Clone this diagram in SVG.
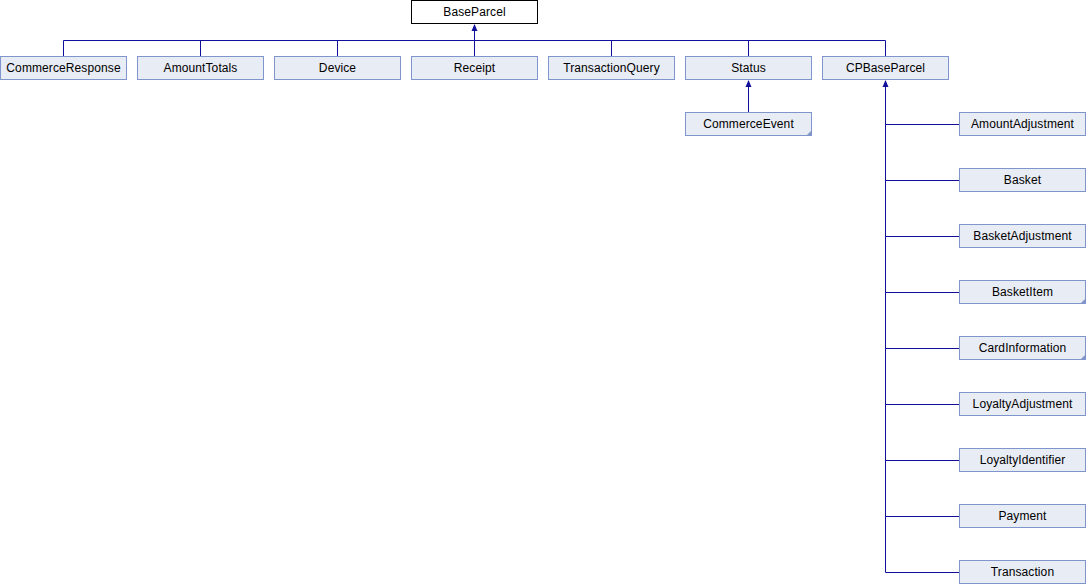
<svg xmlns="http://www.w3.org/2000/svg" width="1086" height="584" viewBox="0 0 1086 584">
<defs>
<style>
.n rect{fill:#e8ecf5;stroke:#7f95cc;stroke-width:1}
.r rect{fill:#ffffff;stroke:#000000;stroke-width:1}
text{font-family:"Liberation Sans",Arial,sans-serif;font-size:12px;fill:#000000;text-anchor:middle;letter-spacing:0.1px}
.fold{fill:#7f95cc}
.e path,.e line{stroke:#10109a;stroke-width:1;fill:none}
.a{fill:#10109a;stroke:none}
</style>
</defs>
<rect width="1086" height="584" fill="#ffffff"/>
<g class="e" id="connectors">
<path d="M63.5 56.5V40.5H885.5V56.5"/>
<line x1="200.5" y1="40.5" x2="200.5" y2="56.5"/>
<line x1="337.5" y1="40.5" x2="337.5" y2="56.5"/>
<line x1="474.5" y1="26" x2="474.5" y2="56.5"/>
<line x1="611.5" y1="40.5" x2="611.5" y2="56.5"/>
<line x1="748.5" y1="40.5" x2="748.5" y2="56.5"/>
<line x1="748.5" y1="82" x2="748.5" y2="112.5"/>
<path d="M885.5 82V572.5H959.5"/>
<line x1="885.5" y1="124.5" x2="959.5" y2="124.5"/>
<line x1="885.5" y1="180.5" x2="959.5" y2="180.5"/>
<line x1="885.5" y1="236.5" x2="959.5" y2="236.5"/>
<line x1="885.5" y1="292.5" x2="959.5" y2="292.5"/>
<line x1="885.5" y1="348.5" x2="959.5" y2="348.5"/>
<line x1="885.5" y1="404.5" x2="959.5" y2="404.5"/>
<line x1="885.5" y1="460.5" x2="959.5" y2="460.5"/>
<line x1="885.5" y1="516.5" x2="959.5" y2="516.5"/>
<polygon class="a" points="474.5,24 471.5,31 477.5,31"/>
<polygon class="a" points="748.5,80 745.5,87 751.5,87"/>
<polygon class="a" points="885.5,80 882.5,87 888.5,87"/>
</g>
<g id="BaseParcel" class="r"><rect x="411.5" y="0.5" width="126" height="23"/><text x="474.5" y="15.5">BaseParcel</text></g>
<g id="CommerceResponse" class="n"><rect x="0.5" y="56.5" width="126" height="23"/><text x="63.5" y="71.5">CommerceResponse</text></g>
<g id="AmountTotals" class="n"><rect x="137.5" y="56.5" width="126" height="23"/><text x="200.5" y="71.5">AmountTotals</text></g>
<g id="Device" class="n"><rect x="274.5" y="56.5" width="126" height="23"/><text x="337.5" y="71.5">Device</text></g>
<g id="Receipt" class="n"><rect x="411.5" y="56.5" width="126" height="23"/><text x="474.5" y="71.5">Receipt</text></g>
<g id="TransactionQuery" class="n"><rect x="548.5" y="56.5" width="126" height="23"/><text x="611.5" y="71.5">TransactionQuery</text></g>
<g id="Status" class="n"><rect x="685.5" y="56.5" width="126" height="23"/><text x="748.5" y="71.5">Status</text></g>
<g id="CPBaseParcel" class="n"><rect x="822.5" y="56.5" width="126" height="23"/><text x="885.5" y="71.5">CPBaseParcel</text></g>
<g id="CommerceEvent" class="n"><rect x="685.5" y="112.5" width="126" height="23"/><text x="748.5" y="127.5">CommerceEvent</text><polygon class="fold" points="811,131 811,135 807,135"/></g>
<g id="AmountAdjustment" class="n"><rect x="959.5" y="112.5" width="126" height="23"/><text x="1022.5" y="127.5">AmountAdjustment</text></g>
<g id="Basket" class="n"><rect x="959.5" y="168.5" width="126" height="23"/><text x="1022.5" y="183.5">Basket</text></g>
<g id="BasketAdjustment" class="n"><rect x="959.5" y="224.5" width="126" height="23"/><text x="1022.5" y="239.5">BasketAdjustment</text></g>
<g id="BasketItem" class="n"><rect x="959.5" y="280.5" width="126" height="23"/><text x="1022.5" y="295.5">BasketItem</text><polygon class="fold" points="1085,299 1085,303 1081,303"/></g>
<g id="CardInformation" class="n"><rect x="959.5" y="336.5" width="126" height="23"/><text x="1022.5" y="351.5">CardInformation</text><polygon class="fold" points="1085,355 1085,359 1081,359"/></g>
<g id="LoyaltyAdjustment" class="n"><rect x="959.5" y="392.5" width="126" height="23"/><text x="1022.5" y="407.5">LoyaltyAdjustment</text></g>
<g id="LoyaltyIdentifier" class="n"><rect x="959.5" y="448.5" width="126" height="23"/><text x="1022.5" y="463.5">LoyaltyIdentifier</text></g>
<g id="Payment" class="n"><rect x="959.5" y="504.5" width="126" height="23"/><text x="1022.5" y="519.5">Payment</text></g>
<g id="Transaction" class="n"><rect x="959.5" y="560.5" width="126" height="23"/><text x="1022.5" y="575.5">Transaction</text></g>
</svg>
